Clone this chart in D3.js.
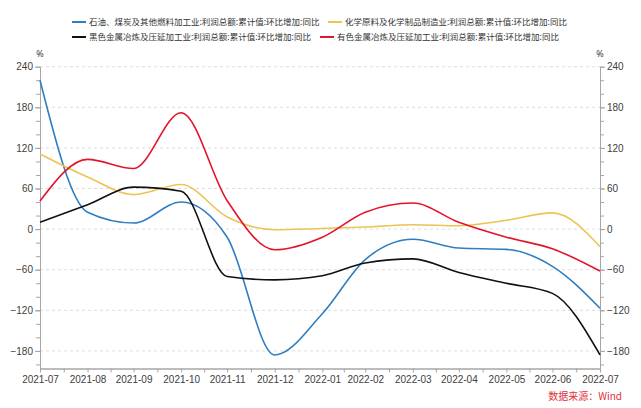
<!DOCTYPE html>
<html><head><meta charset="utf-8">
<script src="https://cdn.jsdelivr.net/npm/d3@7"></script>
<style>
body{margin:0;background:#fff;}
svg{display:block;font-family:"Noto Sans","Noto Sans CJK SC",sans-serif;}
</style></head>
<body><svg id="c" width="641" height="408"></svg>
<script>
const dates = ["2021-07-31","2021-08-31","2021-09-30","2021-10-31","2021-11-30","2021-12-31","2022-01-31","2022-02-28","2022-03-31","2022-04-30","2022-05-31","2022-06-30","2022-07-31"];
const seriesNames = [
  "石油、煤炭及其他燃料加工业:利润总额:累计值:环比增加:同比",
  "化学原料及化学制品制造业:利润总额:累计值:环比增加:同比",
  "黑色金属冶炼及压延加工业:利润总额:累计值:环比增加:同比",
  "有色金属冶炼及压延加工业:利润总额:累计值:环比增加:同比"
];
const petroleum = [220, 25, 9, 40, -12, -186, -125, -45, -15, -28, -30, -55, -117];
const chemical  = [111, 77, 51, 66, 18, -1, 1, 3, 6.5, 5, 13, 24, -26];
const ferrous   = [10, 36, 62, 56, -70, -75, -69, -50, -44, -64, -80, -95, -186];
const nonferrous= [41.5, 103, 89.5, 172, 42, -30.5, -12, 25, 38.5, 10, -12, -29, -62];
const yTicks = [-180, -120, -60, 0, 60, 120, 180, 240];
const colors = ["#2f7ec1", "#ebc452", "#111111", "#e3142c"];

const parse = d3.timeParse("%Y-%m-%d");
const D = dates.map(parse);
const svg = d3.select("#c");
const L = 40, R = 600, T = 67, B = 368.5;
const x = d3.scaleTime().domain([D[0], D[D.length-1]]).range([L, R]);
const y = d3.scaleLinear().domain([-206, 240]).range([B, 228.7 - 240*0.675]);

// grid
svg.append("g").selectAll("line").data(yTicks).join("line")
  .attr("x1", L).attr("x2", R).attr("y1", d => y(d)).attr("y2", d => y(d))
  .attr("stroke", "#dcdcdc").attr("stroke-dasharray", "3,3").attr("stroke-width", 1);

const axisColor = "#a6a6a6";
function styleAxis(g){
  g.selectAll(".domain").attr("stroke", axisColor);
  g.selectAll(".tick line").attr("stroke", axisColor);
  g.selectAll(".tick text").attr("fill", "#404040").style("font-size", "10px");
}
const minorY = d3.range(-200, 241, 20);
// left axis
svg.append("g").attr("transform", `translate(${L},0)`)
  .call(d3.axisLeft(y).tickValues(minorY).tickFormat("").tickSize(4).tickSizeOuter(0)).call(styleAxis);
svg.append("g").attr("transform", `translate(${L},0)`)
  .call(d3.axisLeft(y).tickValues(yTicks).tickFormat(d3.format("d")).tickSize(5).tickPadding(2).tickSizeOuter(0)).call(styleAxis);
// right axis
svg.append("g").attr("transform", `translate(${R},0)`)
  .call(d3.axisRight(y).tickValues(minorY).tickFormat("").tickSize(4).tickSizeOuter(0)).call(styleAxis);
svg.append("g").attr("transform", `translate(${R},0)`)
  .call(d3.axisRight(y).tickValues(yTicks).tickFormat(d3.format("d")).tickSize(5).tickPadding(2).tickSizeOuter(0)).call(styleAxis);
// bottom axis
const mids = D.slice(1).map((d, i) => new Date((d.getTime() + D[i].getTime())/2));
svg.append("g").attr("transform", `translate(0,${B})`)
  .call(d3.axisBottom(x).tickValues(mids).tickFormat("").tickSize(4).tickSizeOuter(0)).call(styleAxis);
svg.append("g").attr("transform", `translate(0,${B})`)
  .call(d3.axisBottom(x).tickValues(D).tickFormat(d3.timeFormat("%Y-%m")).tickSize(4).tickPadding(3).tickSizeOuter(0)).call(styleAxis);

// % labels
svg.append("text").attr("x", L).attr("y", 57).attr("text-anchor", "middle").attr("fill", "#404040").style("font-size", "9px").text("%");
svg.append("text").attr("x", R).attr("y", 57).attr("text-anchor", "middle").attr("fill", "#404040").style("font-size", "9px").text("%");

// lines
const allSeries = [petroleum, chemical, ferrous, nonferrous];
const line = d3.line().x((d, i) => x(D[i])).y(d => y(d)).curve(d3.curveMonotoneX);
allSeries.forEach((s, k) => {
  svg.append("path").datum(s).attr("d", line).attr("fill", "none")
    .attr("stroke", colors[k]).attr("stroke-width", 1.6);
});

// legend
const legendPos = [[72, 22], [328, 22], [72, 37], [320, 37]];
seriesNames.forEach((n, k) => {
  const [lx, ly] = legendPos[k];
  svg.append("line").attr("x1", lx).attr("x2", lx + 14).attr("y1", ly).attr("y2", ly)
    .attr("stroke", colors[k]).attr("stroke-width", 2);
  svg.append("text").attr("x", lx + 17).attr("y", ly).attr("dy", "0.35em")
    .attr("fill", "#333").style("font-size", "8.5px")
    .style("font-family", '"Noto Sans CJK SC",sans-serif').text(n);
});

// source
svg.append("text").attr("x", 622).attr("y", 396).attr("dy", "0.35em").attr("text-anchor", "end")
  .attr("fill", "#e0303a").style("font-size", "10px")
  .style("font-family", '"Noto Sans CJK SC",sans-serif').text("数据来源：Wind");
</script></body></html>
